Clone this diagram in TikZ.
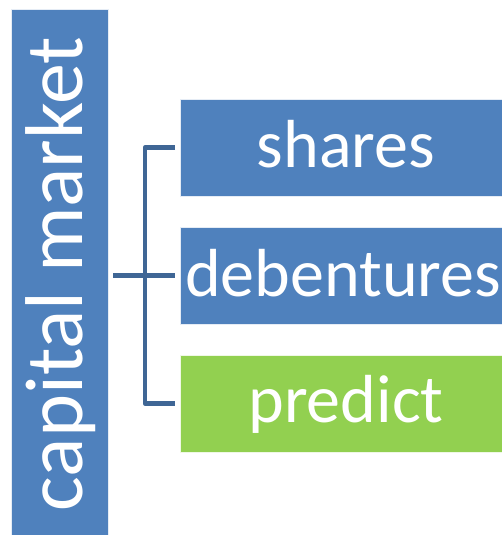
\documentclass[tikz,border=0pt]{standalone}
\usepackage{fontspec}
\setmainfont{Carlito}
\definecolor{boxblue}{HTML}{4F81BD}
\definecolor{boxgreen}{HTML}{92D050}
\definecolor{linkblue}{HTML}{3F6695}
\begin{document}
\begin{tikzpicture}[x=1pt,y=-1pt,
  box/.style={fill=boxblue,draw=white!85!boxblue,line width=0.6pt},
  gbox/.style={fill=boxgreen,draw=white!85!boxgreen,line width=0.6pt},
  lbl/.style={text=white,font=\fontsize{68}{70}\selectfont,anchor=base,inner sep=0pt},
  link/.style={draw=linkblue,line width=4.5pt,line cap=butt,line join=round}]
\useasboundingbox (0,0) rectangle (502,535);
\begin{scope}
\clip (0,0) rectangle (502,535);
\draw[box] (11,9.5) rectangle (108,545);
\draw[box] (180,99.5) rectangle (515,196.5);
\draw[box] (180,227) rectangle (515,324.5);
\draw[gbox] (180,355) rectangle (515,452);
\end{scope}
\node[text=white,font=\fontsize{82}{84}\selectfont,anchor=base,inner sep=0pt,rotate=90] (cm) at (82,274) {capital market};
\node[lbl] (sh) at (346,167.7) {shares};
\node[lbl] (de) at (343,296.7) {debentures};
\node[lbl] (pr) at (346,422.7) {predict};
\coordinate (j) at (145,275.5);
\coordinate (a) at (113,275.5);
\coordinate (t1) at (175,147.5);
\coordinate (t2) at (175,275.5);
\coordinate (t3) at (175,403.5);
\draw[link] (a) -- (t2);
\draw[link] (t1) -| (j) |- (t3);
\end{tikzpicture}
\end{document}
